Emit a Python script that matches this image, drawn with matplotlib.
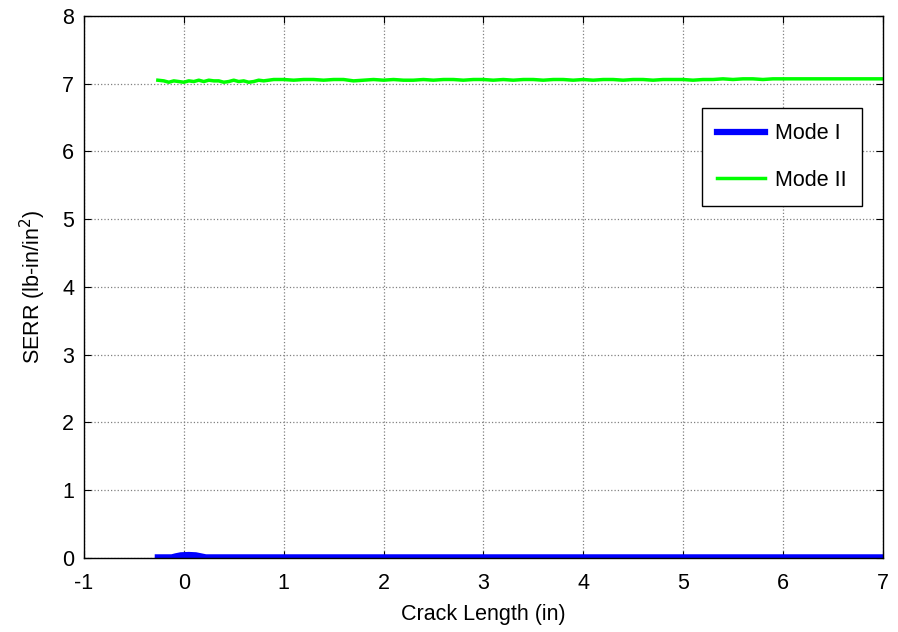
import matplotlib.pyplot as plt

plt.rcParams['font.family'] = ['Liberation Sans', 'DejaVu Sans']
plt.rcParams['axes.unicode_minus'] = False

# crack length (in) and SERR values
crack_mode1 = [-0.26, -0.12, -0.08, -0.03, 0.05, 0.12, 0.17, 0.22, 1.0, 3.0, 5.0, 7.0]
serr_mode1 = [0.01, 0.01, 0.025, 0.04, 0.045, 0.04, 0.025, 0.01, 0.01, 0.01, 0.01, 0.01]

crack_mode2 = [-0.26, -0.2, -0.15, -0.1, -0.05, 0.0, 0.05, 0.1, 0.15, 0.2,
               0.25, 0.3, 0.35, 0.4, 0.45, 0.5, 0.55, 0.6, 0.65, 0.7,
               0.75, 0.8, 0.85, 0.9, 1.0, 1.1, 1.2, 1.3, 1.4, 1.5,
               1.6, 1.7, 1.8, 1.9, 2.0, 2.1, 2.2, 2.3, 2.4, 2.5,
               2.6, 2.7, 2.8, 2.9, 3.0, 3.1, 3.2, 3.3, 3.4, 3.5,
               3.6, 3.7, 3.8, 3.9, 4.0, 4.1, 4.2, 4.3, 4.4, 4.5,
               4.6, 4.7, 4.8, 4.9, 5.0, 5.1, 5.2, 5.3, 5.4, 5.5,
               5.6, 5.7, 5.8, 5.9, 6.5, 7.0]
serr_mode2 = [7.05, 7.04, 7.02, 7.04, 7.03, 7.02, 7.04, 7.03, 7.05, 7.03,
              7.05, 7.04, 7.04, 7.02, 7.03, 7.05, 7.03, 7.04, 7.02, 7.03,
              7.05, 7.04, 7.05, 7.06, 7.06, 7.05, 7.06, 7.06, 7.05, 7.06,
              7.06, 7.04, 7.05, 7.06, 7.05, 7.06, 7.05, 7.05, 7.06, 7.05,
              7.06, 7.06, 7.05, 7.06, 7.06, 7.05, 7.06, 7.05, 7.06, 7.06,
              7.05, 7.06, 7.06, 7.05, 7.06, 7.05, 7.06, 7.06, 7.05, 7.06,
              7.06, 7.05, 7.06, 7.06, 7.06, 7.05, 7.06, 7.06, 7.07, 7.06,
              7.07, 7.07, 7.06, 7.07, 7.07, 7.07]

x_ticks = [-1, 0, 1, 2, 3, 4, 5, 6, 7]
y_ticks = [0, 1, 2, 3, 4, 5, 6, 7, 8]

fig = plt.figure(figsize=(8.98, 6.32), dpi=100)
ax = fig.add_axes([0.0935, 0.117, 0.8895, 0.858])

ax.plot(crack_mode1, serr_mode1, color='#0000ff', linewidth=4.5, label='Mode I')
ax.plot(crack_mode2, serr_mode2, color='#00ff00', linewidth=2.5, label='Mode II')

ax.set_xlim(-1, 7)
ax.set_ylim(0, 8)
ax.set_xticks(x_ticks)
ax.set_yticks(y_ticks)
ax.tick_params(direction='in', top=True, right=True, labelsize=15.5, length=5)
ax.tick_params(axis='x', pad=11)
ax.tick_params(axis='y', pad=7)
ax.grid(True, linestyle=':', color='#808080', linewidth=0.9)
ax.set_axisbelow(True)
for sp in ax.spines.values():
    sp.set_linewidth(1.0)

ax.set_xlabel('Crack Length (in)', fontsize=15.5, labelpad=7)
ax.set_ylabel('SERR (lb-in/in$^2$)', fontsize=15.5, labelpad=10)

leg = ax.legend(loc='upper right', bbox_to_anchor=(0.974, 0.83), fontsize=15.5,
                frameon=True, fancybox=False, edgecolor='black', framealpha=1,
                handlelength=2.2, borderpad=0.7, labelspacing=1.2, handletextpad=0.5,
                borderaxespad=0)
leg.get_frame().set_linewidth(1.0)

plt.savefig('out.png', dpi=100)
